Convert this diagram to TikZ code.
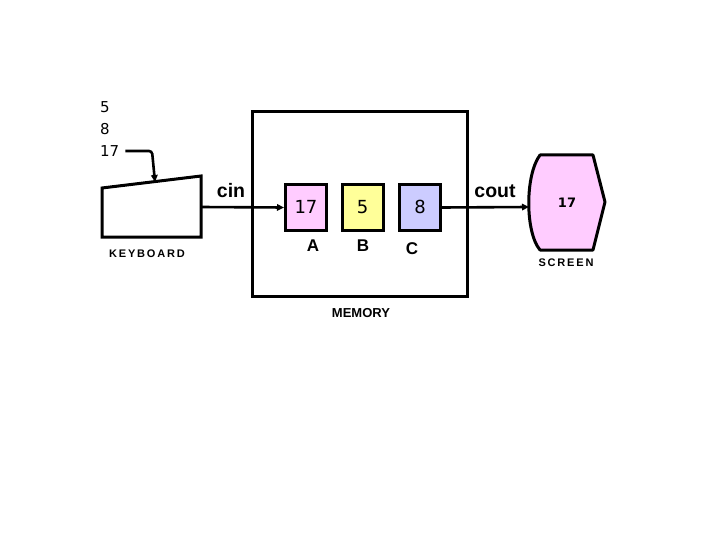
\documentclass[tikz,border=0pt]{standalone}
\usepackage{fontspec}
\setmainfont{Liberation Sans}
\newfontfamily\djv{DejaVu Sans}
\usetikzlibrary{arrows.meta}
\begin{document}
\begin{tikzpicture}[x=1pt,y=-1pt,
  thick3/.style={line width=3pt},
  reg/.style={draw, line width=3pt, minimum width=41pt, minimum height=46pt, inner sep=0pt, text height=13pt, text depth=0pt, font=\djv\fontsize{18}{20}\selectfont},
  lbl/.style={font=\fontsize{17}{19}\selectfont\bfseries, inner sep=0pt},
  captext/.style={font=\fontsize{11}{13}\selectfont\bfseries, inner sep=0pt},
  num/.style={font=\djv\fontsize{15}{17}\selectfont, inner sep=0pt, anchor=west},
  io/.style={font=\fontsize{19.5}{21}\selectfont\bfseries, inner sep=0pt},
  arr/.style={line width=2.6pt, -{Triangle[length=7pt,width=6.5pt]}}
]
\useasboundingbox (0,0) rectangle (720,540);
\definecolor{rpink}{RGB}{255,204,255}
\definecolor{ryellow}{RGB}{255,255,153}
\definecolor{rblue}{RGB}{204,204,255}

% input numbers
\node[num] (n5) at (100,107) {5};
\node[num] (n8) at (100,129) {8};
\node[num] (n17) at (100,151) {17};

% keyboard
\coordinate (k1) at (102,188);
\coordinate (k2) at (201,176);
\coordinate (k3) at (201,237);
\coordinate (k4) at (102,237);
\coordinate (kout) at (201,207);
\coordinate (ktop) at (155,182);
\draw[thick3, line join=miter] (k1) -- (k2) -- (k3) -- (k4) -- cycle;
\node[captext] (kbd) at (147,254) {K\,E\,Y\,B\,O\,A\,R\,D};
\coordinate (bend) at (152,151);
\draw[arr, rounded corners=3pt] ([xshift=6pt]n17.east) -- (bend) -- (ktop);

% memory
\node[draw, thick3, minimum width=215pt, minimum height=185pt, inner sep=0pt] (mem) at (360.3,204.3) {};
\node[font=\fontsize{13}{15}\selectfont\bfseries, inner sep=0pt] (memlbl) at (361,313) {MEMORY};

\node[reg, fill=rpink] (A) at (306,207.5) {17};
\node[reg, fill=ryellow] (B) at (362.5,207.5) {5};
\node[reg, fill=rblue] (C) at (420,207.5) {8};
\node[lbl] (la) at (313,246) {A};
\node[lbl] (lb) at (363,246) {B};
\node[lbl] (lc) at (412,249) {C};

% screen
\coordinate (s1) at (540,155);
\coordinate (s2) at (593,155);
\coordinate (s3) at (605,202);
\coordinate (s4) at (593,250);
\coordinate (s5) at (540,250);
\coordinate (sin) at (529,207);
\draw[thick3, fill=rpink, line join=round] (s1) -- (s2) -- (s3) -- (s4) -- (s5) .. controls (525,232) and (525,175) .. (s1) -- cycle;
\node[font=\djv\bfseries\fontsize{13}{15}\selectfont, inner sep=0pt] (s17) at (567,203) {17};
\node[captext] (scr) at (566,263) {S\,C\,R\,E\,E\,N};

% connectors
\draw[arr] (kout) -- (A.west);
\draw[arr] (C.east) -- (sin);
\node[io] (cin) at (231,191) {cin};
\node[io] (cout) at (495,191) {cout};
\end{tikzpicture}
\end{document}
